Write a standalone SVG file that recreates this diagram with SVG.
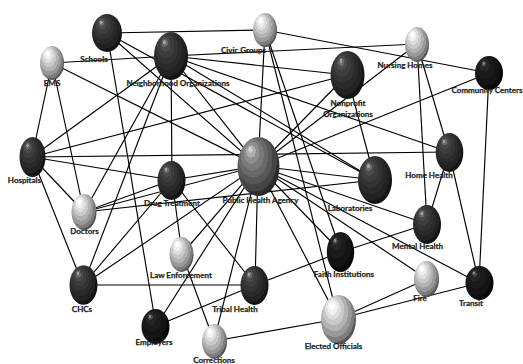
<svg xmlns="http://www.w3.org/2000/svg" width="523" height="364" viewBox="0 0 523 364">
<style>
.e line{stroke:#000;stroke-width:1.15;fill:none}
text{font-family:"Lato","Liberation Sans",sans-serif;font-weight:700;font-size:8px;fill:#1a1a1a;stroke:#2a2a2a;stroke-width:0.25;text-anchor:middle}
.dk{fill:url(#gDk)}
.lt{fill:url(#gLt)}
.md{fill:url(#gMd)}
.bk{fill:url(#gBk)}
</style>
<defs>
<radialGradient id="gDk" cx="0.42" cy="0.42" r="0.62" fx="0.3" fy="0.2">
<stop offset="0" stop-color="#a0a0a0"/><stop offset="0.07" stop-color="#a0a0a0"/>
<stop offset="0.07" stop-color="#6a6a6a"/><stop offset="0.14" stop-color="#6a6a6a"/>
<stop offset="0.14" stop-color="#4a4a4a"/><stop offset="0.25" stop-color="#4a4a4a"/>
<stop offset="0.25" stop-color="#3d3d3d"/><stop offset="0.4" stop-color="#3d3d3d"/>
<stop offset="0.4" stop-color="#333"/><stop offset="0.55" stop-color="#333"/>
<stop offset="0.55" stop-color="#2a2a2a"/><stop offset="0.7" stop-color="#2a2a2a"/>
<stop offset="0.7" stop-color="#222"/><stop offset="0.85" stop-color="#222"/>
<stop offset="0.85" stop-color="#181818"/><stop offset="1" stop-color="#0e0e0e"/>
</radialGradient>
<radialGradient id="gLt" cx="0.42" cy="0.42" r="0.62" fx="0.3" fy="0.2">
<stop offset="0" stop-color="#fff"/><stop offset="0.12" stop-color="#fff"/>
<stop offset="0.12" stop-color="#f0f0f0"/><stop offset="0.24" stop-color="#f0f0f0"/>
<stop offset="0.24" stop-color="#dedede"/><stop offset="0.36" stop-color="#dedede"/>
<stop offset="0.36" stop-color="#c9c9c9"/><stop offset="0.5" stop-color="#c9c9c9"/>
<stop offset="0.5" stop-color="#b2b2b2"/><stop offset="0.64" stop-color="#b2b2b2"/>
<stop offset="0.64" stop-color="#999"/><stop offset="0.78" stop-color="#999"/>
<stop offset="0.78" stop-color="#7d7d7d"/><stop offset="0.9" stop-color="#7d7d7d"/>
<stop offset="0.9" stop-color="#5e5e5e"/><stop offset="1" stop-color="#4a4a4a"/>
</radialGradient>
<radialGradient id="gMd" cx="0.42" cy="0.42" r="0.62" fx="0.3" fy="0.2">
<stop offset="0" stop-color="#d0d0d0"/><stop offset="0.08" stop-color="#d0d0d0"/>
<stop offset="0.08" stop-color="#acacac"/><stop offset="0.18" stop-color="#acacac"/>
<stop offset="0.18" stop-color="#8e8e8e"/><stop offset="0.3" stop-color="#8e8e8e"/>
<stop offset="0.3" stop-color="#7a7a7a"/><stop offset="0.44" stop-color="#7a7a7a"/>
<stop offset="0.44" stop-color="#686868"/><stop offset="0.58" stop-color="#686868"/>
<stop offset="0.58" stop-color="#575757"/><stop offset="0.72" stop-color="#575757"/>
<stop offset="0.72" stop-color="#454545"/><stop offset="0.86" stop-color="#454545"/>
<stop offset="0.86" stop-color="#333"/><stop offset="1" stop-color="#222"/>
</radialGradient>
<radialGradient id="gBk" cx="0.42" cy="0.42" r="0.62" fx="0.3" fy="0.2">
<stop offset="0" stop-color="#8a8a8a"/><stop offset="0.06" stop-color="#8a8a8a"/>
<stop offset="0.06" stop-color="#4a4a4a"/><stop offset="0.13" stop-color="#4a4a4a"/>
<stop offset="0.13" stop-color="#262626"/><stop offset="0.3" stop-color="#262626"/>
<stop offset="0.3" stop-color="#1b1b1b"/><stop offset="0.55" stop-color="#1b1b1b"/>
<stop offset="0.55" stop-color="#141414"/><stop offset="0.8" stop-color="#141414"/>
<stop offset="0.8" stop-color="#0c0c0c"/><stop offset="1" stop-color="#050505"/>
</radialGradient>
</defs>
<rect width="523" height="364" fill="#fff"/>
<g id="connectors" class="e">
<line x1="107" y1="33" x2="265" y2="30"/>
<line x1="107" y1="33" x2="156" y2="326"/>
<line x1="107" y1="33" x2="258" y2="166"/>
<line x1="107" y1="33" x2="375" y2="180"/>
<line x1="52" y1="63" x2="171" y2="56"/>
<line x1="52" y1="63" x2="32" y2="157"/>
<line x1="52" y1="63" x2="84" y2="212"/>
<line x1="52" y1="63" x2="258" y2="166"/>
<line x1="171" y1="56" x2="32" y2="157"/>
<line x1="171" y1="56" x2="84" y2="212"/>
<line x1="171" y1="56" x2="83" y2="285"/>
<line x1="171" y1="56" x2="172" y2="180"/>
<line x1="171" y1="56" x2="258" y2="166"/>
<line x1="171" y1="56" x2="347" y2="75"/>
<line x1="171" y1="56" x2="417" y2="44"/>
<line x1="171" y1="56" x2="449" y2="152"/>
<line x1="171" y1="56" x2="375" y2="180"/>
<line x1="32" y1="157" x2="347" y2="75"/>
<line x1="32" y1="157" x2="449" y2="152"/>
<line x1="32" y1="157" x2="172" y2="180"/>
<line x1="32" y1="157" x2="84" y2="212"/>
<line x1="32" y1="157" x2="83" y2="285"/>
<line x1="84" y1="212" x2="172" y2="180"/>
<line x1="84" y1="212" x2="258" y2="166"/>
<line x1="84" y1="212" x2="375" y2="180"/>
<line x1="83" y1="285" x2="172" y2="180"/>
<line x1="83" y1="285" x2="258" y2="166"/>
<line x1="83" y1="285" x2="255" y2="285"/>
<line x1="172" y1="180" x2="258" y2="166"/>
<line x1="172" y1="180" x2="182" y2="254"/>
<line x1="172" y1="180" x2="255" y2="285"/>
<line x1="265" y1="30" x2="258" y2="166"/>
<line x1="265" y1="30" x2="338" y2="319"/>
<line x1="265" y1="30" x2="341" y2="252"/>
<line x1="265" y1="30" x2="489" y2="73"/>
<line x1="347" y1="75" x2="258" y2="166"/>
<line x1="347" y1="75" x2="375" y2="180"/>
<line x1="417" y1="44" x2="258" y2="166"/>
<line x1="417" y1="44" x2="449" y2="152"/>
<line x1="417" y1="44" x2="427" y2="224"/>
<line x1="489" y1="73" x2="258" y2="166"/>
<line x1="489" y1="73" x2="479" y2="283"/>
<line x1="449" y1="152" x2="427" y2="224"/>
<line x1="449" y1="152" x2="479" y2="283"/>
<line x1="258" y1="166" x2="375" y2="180"/>
<line x1="258" y1="166" x2="427" y2="224"/>
<line x1="258" y1="166" x2="341" y2="252"/>
<line x1="258" y1="166" x2="427" y2="279"/>
<line x1="258" y1="166" x2="479" y2="283"/>
<line x1="258" y1="166" x2="338" y2="319"/>
<line x1="258" y1="166" x2="255" y2="285"/>
<line x1="258" y1="166" x2="182" y2="254"/>
<line x1="258" y1="166" x2="156" y2="326"/>
<line x1="258" y1="166" x2="214" y2="341"/>
<line x1="182" y1="254" x2="214" y2="341"/>
<line x1="255" y1="285" x2="156" y2="326"/>
<line x1="255" y1="285" x2="341" y2="252"/>
<line x1="341" y1="252" x2="427" y2="224"/>
<line x1="338" y1="319" x2="427" y2="279"/>
<line x1="338" y1="319" x2="479" y2="283"/>
<line x1="338" y1="319" x2="214" y2="341"/>
</g>
<g id="schools"><ellipse class="dk" cx="107" cy="33" rx="15" ry="19"/><text x="94" y="62">Schools</text></g>
<g id="ems"><ellipse class="lt" cx="52" cy="63" rx="12" ry="17"/><text x="52" y="86">EMS</text></g>
<g id="neighborhood"><ellipse class="dk" cx="171" cy="56" rx="17" ry="24"/><text x="178" y="86">Neighborhood Organizations</text></g>
<g id="civic"><ellipse class="lt" cx="265" cy="30" rx="12" ry="17"/><text x="243.5" y="53">Civic Groups</text></g>
<g id="nonprofit"><ellipse class="dk" cx="347.5" cy="75" rx="17" ry="24"/><text x="348" y="105.5">Nonprofit</text><text x="348" y="116.5">Organizations</text></g>
<g id="nursing"><ellipse class="lt" cx="417" cy="44.5" rx="12" ry="17.5"/><text x="405" y="67.5">Nursing Homes</text></g>
<g id="community"><ellipse class="bk" cx="489" cy="73" rx="14" ry="17"/><text x="487" y="92.5">Community Centers</text></g>
<g id="hospitals"><ellipse class="dk" cx="32.5" cy="157" rx="13" ry="20"/><text x="24.5" y="183">Hospitals</text></g>
<g id="homehealth"><ellipse class="dk" cx="449.5" cy="152.5" rx="13.8" ry="19.5"/><text x="429" y="178">Home Health</text></g>
<g id="labs"><ellipse class="dk" cx="375" cy="180" rx="17" ry="24"/><text x="350" y="211">Laboratories</text></g>
<g id="pha"><ellipse class="md" cx="258.5" cy="166.5" rx="21" ry="29.5"/><text x="260.5" y="203">Public Health Agency</text></g>
<g id="drug"><ellipse class="dk" cx="171.5" cy="180.5" rx="14" ry="19.5"/><text x="172" y="206">Drug Treatment</text></g>
<g id="doctors"><ellipse class="lt" cx="84" cy="212" rx="12.5" ry="18"/><text x="84.5" y="234">Doctors</text></g>
<g id="law"><ellipse class="lt" cx="181.5" cy="254.5" rx="12" ry="17.5"/><text x="181" y="277.5">Law Enforcement</text></g>
<g id="chcs"><ellipse class="dk" cx="83.5" cy="285" rx="14" ry="19.7"/><text x="82" y="312">CHCs</text></g>
<g id="tribal"><ellipse class="dk" cx="254.5" cy="285.5" rx="14" ry="19.5"/><text x="235" y="312">Tribal Health</text></g>
<g id="faith"><ellipse class="bk" cx="340.5" cy="252" rx="13.7" ry="20"/><text x="344" y="277">Faith Institutions</text></g>
<g id="mental"><ellipse class="dk" cx="427" cy="224.5" rx="14" ry="19.5"/><text x="417.5" y="249">Mental Health</text></g>
<g id="fire"><ellipse class="lt" cx="426.5" cy="279" rx="12.5" ry="18"/><text x="420" y="301">Fire</text></g>
<g id="transit"><ellipse class="bk" cx="479.5" cy="283" rx="14" ry="17"/><text x="471" y="306">Transit</text></g>
<g id="employers"><ellipse class="bk" cx="155.5" cy="326.5" rx="14" ry="17.5"/><text x="154" y="345">Employers</text></g>
<g id="corrections"><ellipse class="lt" cx="214.5" cy="341.5" rx="12.5" ry="17.5"/><text x="214" y="363">Corrections</text></g>
<g id="elected"><ellipse class="lt" cx="338.5" cy="319.5" rx="17.5" ry="24.5"/><text x="333.5" y="349">Elected Officials</text></g>
</svg>
